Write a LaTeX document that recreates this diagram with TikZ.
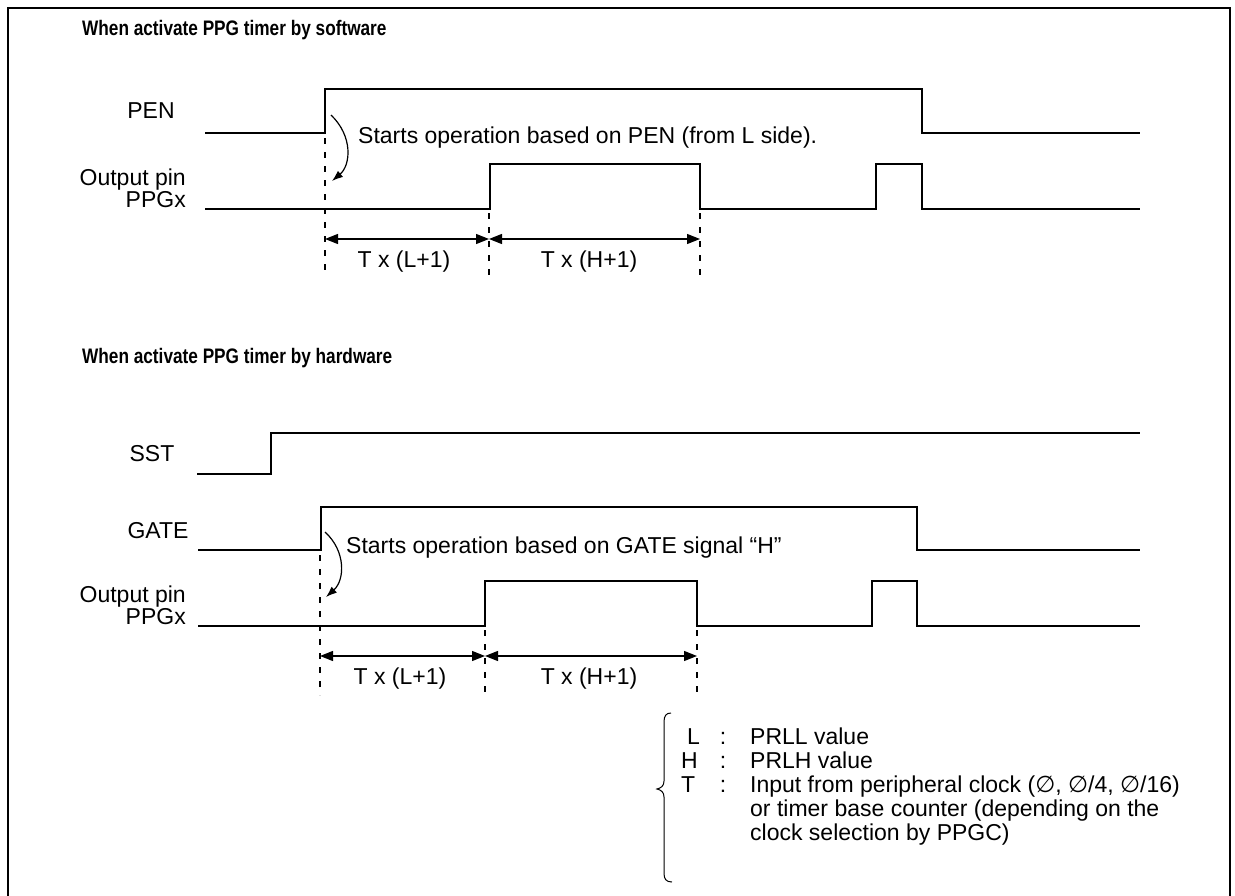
\documentclass[tikz,border=0pt]{standalone}
\usepackage{fontspec}
\setmainfont{Liberation Sans}
\newfontfamily\symfont{DejaVu Sans}
\newfontfamily\ttlfont[FakeStretch=0.82]{Liberation Sans Bold}
\usetikzlibrary{arrows.meta}
\newcommand{\nullset}{{\symfont\char"2205}}
\begin{document}
\begin{tikzpicture}[x=1pt,y=-1pt,
  sig/.style={line width=2.6pt, line join=miter},
  frame/.style={line width=2.6pt},
  dimarrow/.style={line width=1.3pt, {Triangle[length=13pt,width=10pt]}-{Triangle[length=13pt,width=10pt]}},
  guide/.style={line width=1.2pt, dash pattern=on 6pt off 8pt},
  curvearrow/.style={line width=1.2pt, -{Latex[length=11pt,width=8pt]}},
  lbl/.style={font=\fontsize{23}{25}\selectfont, inner sep=0pt},
  ttl/.style={font=\ttlfont\fontsize{21}{24}\selectfont, anchor=base west, inner sep=0pt},
  brace/.style={line width=1pt}]
\useasboundingbox (0,0) rectangle (1235,895);
\draw[frame] (8,900) -- (8,8) -- (1230,8) -- (1230,900);

% ---------- Section 1 ----------
\node[ttl] (t1) at (82,35) {When activate PPG timer by software};

\node[lbl, anchor=base] (penl) at (151,118) {PEN};
\node[lbl, anchor=base east] (op1) at (186,185) {Output pin};
\node[lbl, anchor=base east] (pg1) at (186,207) {PPGx};

\coordinate (pA) at (205,133);
\coordinate (pB) at (325,133);
\coordinate (pC) at (325,89);
\coordinate (pD) at (922,89);
\coordinate (pE) at (922,133);
\coordinate (pF) at (1140,133);
\draw[sig] (pA) -- (pB) -- (pC) -- (pD) -- (pE) -- (pF);

\coordinate (qA) at (205,209);
\coordinate (qB) at (490,209);
\coordinate (qC) at (490,164);
\coordinate (qD) at (700,164);
\coordinate (qE) at (700,209);
\coordinate (qF) at (876,209);
\coordinate (qG) at (876,164);
\coordinate (qH) at (922,164);
\coordinate (qI) at (922,209);
\coordinate (qJ) at (1140,209);
\draw[sig] (qA) -- (qB) -- (qC) -- (qD) -- (qE) -- (qF) -- (qG) -- (qH) -- (qI) -- (qJ);

\coordinate (g1a) at (325,138);
\coordinate (g1b) at (325,277);
\coordinate (g2a) at (489,213);
\coordinate (g2b) at (489,277);
\coordinate (g3a) at (700,213);
\coordinate (g3b) at (700,280);
\draw[guide] (g1a) -- (g1b);
\draw[guide] (g2a) -- (g2b);
\draw[guide] (g3a) -- (g3b);

\coordinate (d1a) at (325,239);
\coordinate (d1b) at (489,239);
\coordinate (d1c) at (700,239);
\draw[dimarrow] (d1a) -- (d1b);
\draw[dimarrow] (d1b) -- (d1c);
\node[lbl, anchor=base] (tl1) at (404,267) {T x (L+1)};
\node[lbl, anchor=base] (th1) at (589,267) {T x (H+1)};

\coordinate (c1a) at (331,115);
\coordinate (c1b) at (332,181);
\draw[curvearrow] (c1a) .. controls (353,136) and (351,165) .. (c1b);
\node[lbl, anchor=base west] (s1) at (358,143) {Starts operation based on PEN (from L side).};

% ---------- Section 2 ----------
\node[ttl] (t2) at (82,363) {When activate PPG timer by hardware};

\node[lbl, anchor=base] (sstl) at (152,461) {SST};
\node[lbl, anchor=base] (gatel) at (158,538) {GATE};
\node[lbl, anchor=base east] (op2) at (186,602) {Output pin};
\node[lbl, anchor=base east] (pg2) at (186,624) {PPGx};

\coordinate (sA) at (197,474);
\coordinate (sB) at (271,474);
\coordinate (sC) at (271,433);
\coordinate (sD) at (1140,433);
\draw[sig] (sA) -- (sB) -- (sC) -- (sD);

\coordinate (gA) at (198,550);
\coordinate (gB) at (321,550);
\coordinate (gC) at (321,507);
\coordinate (gD) at (917,507);
\coordinate (gE) at (917,550);
\coordinate (gF) at (1140,550);
\draw[sig] (gA) -- (gB) -- (gC) -- (gD) -- (gE) -- (gF);

\coordinate (rA) at (198,626);
\coordinate (rB) at (485,626);
\coordinate (rC) at (485,581);
\coordinate (rD) at (697,581);
\coordinate (rE) at (697,626);
\coordinate (rF) at (872,626);
\coordinate (rG) at (872,581);
\coordinate (rH) at (917,581);
\coordinate (rI) at (917,626);
\coordinate (rJ) at (1140,626);
\draw[sig] (rA) -- (rB) -- (rC) -- (rD) -- (rE) -- (rF) -- (rG) -- (rH) -- (rI) -- (rJ);

\coordinate (h1a) at (320,555);
\coordinate (h1b) at (320,695);
\coordinate (h2a) at (485,630);
\coordinate (h2b) at (485,695);
\coordinate (h3a) at (697,630);
\coordinate (h3b) at (697,695);
\draw[guide] (h1a) -- (h1b);
\draw[guide] (h2a) -- (h2b);
\draw[guide] (h3a) -- (h3b);

\coordinate (e1a) at (320,656);
\coordinate (e1b) at (485,656);
\coordinate (e1c) at (697,656);
\draw[dimarrow] (e1a) -- (e1b);
\draw[dimarrow] (e1b) -- (e1c);
\node[lbl, anchor=base] (tl2) at (400,684) {T x (L+1)};
\node[lbl, anchor=base] (th2) at (589,684) {T x (H+1)};

\coordinate (c2a) at (325,532);
\coordinate (c2b) at (326,597);
\draw[curvearrow] (c2a) .. controls (346,551) and (345,580) .. (c2b);
\node[lbl, anchor=base west] (s2) at (346,553) {Starts operation based on GATE signal “H”};

% ---------- Legend ----------
\draw[brace] (671,713) .. controls (666,713) and (664,716) .. (664,722) -- (664,781)
  .. controls (664,786) and (661,788) .. (657,789)
  .. controls (661,790) and (664,792) .. (664,797) -- (664,873)
  .. controls (664,879) and (666,882) .. (672,882);

\node[lbl, anchor=base west] (kL) at (687,744) {L};
\node[lbl, anchor=base west] (kH) at (681,768) {H};
\node[lbl, anchor=base west] (kT) at (681,792) {T};
\node[lbl, anchor=base] (cL) at (723,744) {:};
\node[lbl, anchor=base] (cH) at (723,768) {:};
\node[lbl, anchor=base] (cT) at (723,792) {:};
\node[lbl, anchor=base west] (vL) at (750,744) {PRLL value};
\node[lbl, anchor=base west] (vH) at (750,768) {PRLH value};
\node[lbl, anchor=base west] (vT1) at (750,792) {Input from peripheral clock (\nullset, \nullset/4, \nullset/16)};
\node[lbl, anchor=base west] (vT2) at (750,816) {or timer base counter (depending on the};
\node[lbl, anchor=base west] (vT3) at (750,840) {clock selection by PPGC)};
\end{tikzpicture}
\end{document}
